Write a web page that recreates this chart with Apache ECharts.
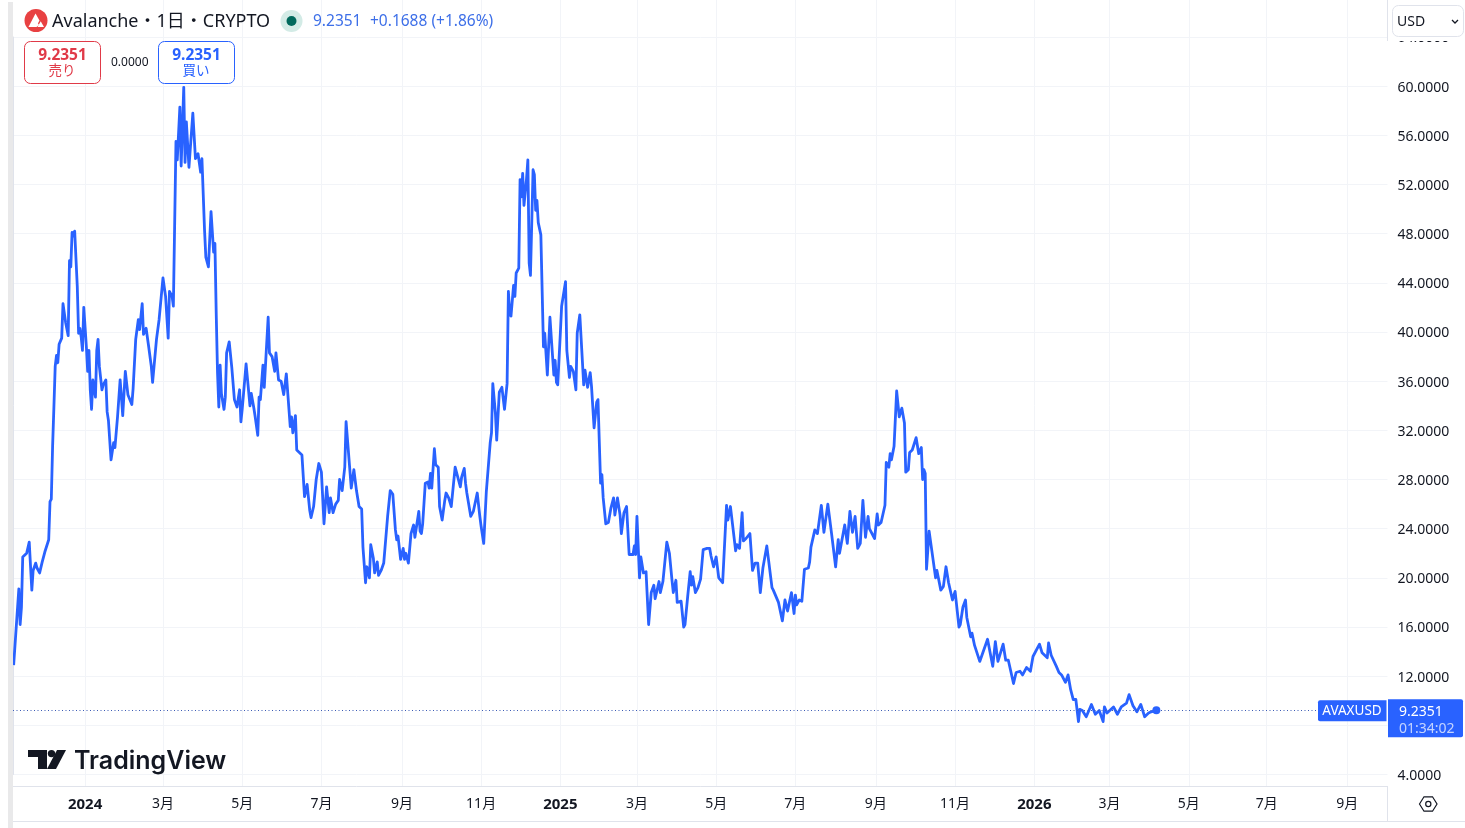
<!DOCTYPE html>
<html><head><meta charset="utf-8">
<style>html,body{margin:0;padding:0;background:#fff;overflow:hidden}#c{width:1465px;height:828px}</style>
<script src="https://cdn.jsdelivr.net/npm/echarts@6/dist/echarts.min.js"></script>
</head><body><div id="c"></div>
<script>
// Days after the first bar (2023-11-07)
const dayIndex = [0,1,4,5,6,7,10,12,14,15,17,18,20,22,24,25,27,28,29,30,31,32,33,34,35,36,37,38,40,42,43,44,45,46,47,49,50,51,52,53,54,56,57,58,59,60,61,63,64,65,66,67,68,69,71,72,73,74,75,77,78,80,82,83,84,86,88,91,92,93,94,95,96,97,99,100,102,104,106,107,110,111,112,115,117,118,119,120,122,123,125,126,128,129,131,132,133,135,138,140,142,144,145,147,148,150,152,153,154,155,156,157,158,159,160,162,163,164,166,168,170,172,174,175,176,179,180,182,183,185,186,188,189,190,192,193,196,197,199,201,202,204,206,208,210,213,214,215,217,218,222,224,226,228,229,231,233,234,235,237,239,241,243,244,246,248,250,251,253,255,256,260,262,264,266,268,269,271,272,274,275,277,278,280,281,283,285,288,290,292,294,295,296,298,300,301,302,304,306,308,309,312,313,314,315,317,319,320,321,322,324,325,327,328,330,332,333,335,337,338,340,341,344,345,347,348,349,352,354,357,359,360,362,364,367,368,369,371,372,374,376,378,380,381,382,383,385,386,387,389,390,391,392,393,395,396,397,398,400,401,402,403,404,406,408,409,411,413,414,416,417,418,419,421,422,425,426,428,429,431,433,434,436,439,440,442,444,445,447,449,450,452,453,454,456,458,460,462,463,465,467,468,470,472,474,477,478,479,480,482,483,485,487,489,491,492,493,494,497,498,500,503,505,507,508,510,511,514,516,517,519,521,522,523,525,527,529,530,531,534,536,537,538,539,541,543,546,549,550,552,554,556,557,559,561,562,564,567,569,571,573,575,577,580,584,585,589,592,594,596,599,601,602,603,605,607,609,612,613,614,617,619,622,624,625,627,630,633,635,636,640,642,644,646,648,650,652,654,656,658,659,663,665,666,668,671,672,674,675,676,678,680,682,684,686,687,689,690,692,695,697,699,700,701,702,703,705,710,711,714,716,718,720,721,723,725,728,729,731,733,734,737,738,740,744,745,750,751,754,756,758,762,764,766,770,772,775,777,780,783,785,790,792,796,797,799,803,805,807,810,812,814,816,818,820,821,823,826,830,833,836,839,840,842,847,850,853,857,859,862,865,868,871,874,875,876,880];
// Closing prices (USD)
const prices = [12.9,13.0,19.1,16.2,17.6,21.7,22,22.9,19,20.6,21.2,20.8,20.4,21.3,22.1,22,23.1,26.2,26.4,30.7,33.9,37.2,38.1,37.5,39,39.1,39.5,42.3,40.8,39.7,45.8,45.3,48.1,47.8,48.2,43.7,39.9,40.3,39.6,38.5,42,38.8,36.8,38.5,35.3,33.7,36.1,34.7,38.5,39.4,37.2,37.1,35.3,35.7,36.1,33.5,32.8,32.7,29.6,31,30.6,33.1,36.1,34.7,33.2,36.8,34.9,34.1,35.4,35.5,39.4,40.2,41,40.2,42.3,39.8,40.3,38.8,37.2,35.9,39.4,39.4,41,44.4,42.9,42.9,39.5,43.3,42.9,42.1,55.5,54,58.3,53.5,59.9,53.8,57.1,53.4,57.8,54.1,54.5,53,54.1,48.3,46.1,45.3,49.8,49.9,46.5,47.2,41.5,36.7,33.9,37.3,35,33.7,34.7,38.3,39.2,37.1,34.5,33.9,35.3,32.7,33.7,37.4,37.3,34,35,33.8,33.1,31.6,34.7,34.5,37.3,35.5,41.2,38.3,38,36.8,38.3,36.1,36,34.9,36.6,32.3,33.1,31.8,33.2,30.4,30,26.6,27.6,25.5,24.9,25.8,28,28,29.3,28.6,24.4,27.4,25.3,26.5,25.3,26,26.3,28,27.1,29,32.7,27.3,28.8,27.1,25.8,25.6,22.5,19.6,20.9,20,22.7,21.6,20.4,21.3,20.2,20.6,21.2,25,27.1,26.8,23.9,23.1,23.4,21.5,22.4,21.5,22,21.2,23.6,24.3,23.3,25.4,23.8,23.6,24.4,27.7,27.8,27.3,28.5,27.3,30.5,29.2,29,25.8,24.7,26.3,26.9,26.5,25.8,25.9,29,29,27.4,28.2,28.9,27.7,26.9,25,25.4,26.9,25,24.2,22.8,27,31,31.8,35.8,33.4,31.2,35.1,35.5,33.7,35.8,43.3,41.5,41.3,43.8,42.9,44.8,45.2,52.4,51,52.9,50.3,52.5,54,45.6,44.6,53.2,52.8,49.9,50.7,48.9,47.9,38.8,39.9,36.5,41.2,39.6,36.5,37.7,35.9,35.7,39.9,42.1,44.1,38.5,36.3,37.2,36.8,35.3,39.9,41.4,35.7,36.9,35.5,36.7,35.6,32.2,34.3,34.5,27.7,28.4,26.5,24.4,24.5,25.7,26.5,25.1,26.5,25.1,23.6,25.3,25.8,21.9,21.9,22.6,21.9,25,20,21.7,20.4,20.5,16.2,18.8,18.7,19.4,18.3,19.7,18.8,19.7,22.9,22,19.8,18.8,19.8,18,18.1,16,16.2,18.4,20.5,19.4,20.1,18.8,19.2,19.9,19.8,22.3,22.4,22.4,21.8,21.8,20.9,21.7,20,19.6,25.9,24.7,25.8,24,22.2,22.7,22.4,25.3,23,23.2,23.6,20.6,21.2,21.2,18.8,20.8,22.6,19.2,19,18,16.5,18.2,17.3,18.8,17.1,18.6,17.8,18.2,18.1,20.7,20.8,21.3,22.5,23.9,23.6,25.9,23.7,23.7,26,23.5,20.9,23.1,22,24.3,22.8,25.4,23.7,25,22.4,22.8,26.3,23.3,25,24,23.2,25.2,24.3,24.5,25.9,29.4,29,30.1,29.6,30.7,35.2,33.1,33.8,32.6,28.6,28.8,30.2,30.4,31.4,30.1,30.6,28,28.8,28.5,20.7,23.8,20,20.6,19,19.3,20.9,19.6,19.6,18.2,18.9,16,16.2,17.6,18.2,16.8,15.2,15.5,14.5,13.2,13.2,15,14.9,12.8,14.8,13.2,14.6,13.3,13.3,11.4,12.3,12.4,12.1,12.7,12.4,13.6,14.6,13.9,13.5,14.7,13.7,12.8,12.3,12.1,11.5,12.1,10.9,10.1,10.1,8.3,9.3,9.2,8.7,9.7,8.9,9.2,8.3,9.5,9,9.5,8.9,9.5,9.8,10.5,9.6,9.1,9.7,8.7,9.0,8.9,9.1,9.2351];
// Grid positions of the axis labels (the chart's future part runs very slightly tighter)
const tickDates = ['2024-01-01','2024-03-01','2024-05-01','2024-07-01','2024-09-01','2024-11-01','2025-01-01','2025-03-01','2025-05-01','2025-07-01','2025-09-01','2025-11-01','2026-01-01','2026-02-28','2026-04-30','2026-06-29','2026-08-30'];
const tickLabels = ['2024','3月','5月','7月','9月','11月','2025','3月','5月','7月','9月','11月','2026','3月','5月','7月','9月'];
const lastPrice = 9.2351;
const symbolName = 'AVAXUSD';
const countdown = '01:34:02';
const titleText = 'Avalanche・1日・CRYPTO';
const changeText = '+0.1688 (+1.86%)';
const currencyText = 'USD';

const DAY = 86400000;
const utc = s => { const p = s.split('-').map(Number); return Date.UTC(p[0], p[1]-1, p[2]); };
const firstBar = utc('2023-11-07');
const axisMin = -0.5, axisMax = 1058;
const tickDays = tickDates.map(s => Math.round((utc(s)-firstBar)/DAY));
const series = dayIndex.map((d,i)=>[d, prices[i]]);
const lastDay = dayIndex[dayIndex.length-1];
const priceLineEnd = 1004;

const BLUE='#2962ff', GRID='#f2f4f8', EDGE='#e0e3eb', INK='#131722', RED='#e03a48', SOFTBLUE='#3d6fe8';
const F='"Noto Sans","Noto Sans CJK JP",sans-serif';

const plainX = (g) => ({type:'value',gridIndex:g,min:axisMin,max:axisMax,axisLine:{show:false},
     axisTick:{show:false,customValues:tickDays},
     axisLabel:{show:false,customValues:tickDays},
     splitLine:{show:true,lineStyle:{color:GRID,width:1}}});

const chart = echarts.init(document.getElementById('c'), null, {renderer:'canvas'});
chart.setOption({
  animation:false,
  backgroundColor:'#fff',
  grid:[
    {left:13,right:77.5,top:37,bottom:828-774.5},
    {left:13,right:77.5,top:774.5,bottom:828-786.5},
    {left:13,right:77.5,top:0,bottom:828-37}
  ],
  xAxis:[
    plainX(0),
    {type:'value',gridIndex:1,min:axisMin,max:axisMax,
     axisLine:{show:true,onZero:false,lineStyle:{color:EDGE,width:1}},
     axisTick:{show:false,customValues:tickDays},
     splitLine:{show:true,lineStyle:{color:GRID,width:1}},
     axisLabel:{show:true,customValues:tickDays,hideOverlap:false,margin:11,color:INK,fontFamily:F,fontSize:14,
       formatter:v=>{const i=tickDays.indexOf(v);const t=i<0?'':tickLabels[i];return /^\d{4}$/.test(t)?'{b|'+t+'}':t;},
       rich:{b:{fontWeight:'bold',fontSize:15,fontFamily:F,color:INK}}}},
    plainX(2)
  ],
  yAxis:[
    {type:'value',gridIndex:0,position:'right',min:4,max:64,interval:4,
     axisLine:{show:true,lineStyle:{color:EDGE,width:1}},axisTick:{show:false},
     splitLine:{show:true,lineStyle:{color:GRID,width:1}},
     axisLabel:{margin:10,color:INK,fontFamily:F,fontSize:14,showMinLabel:true,showMaxLabel:true,
       formatter:v=>v===8?'':'{p|'+v.toFixed(4)+'}',
       rich:{p:{fontFamily:F,fontSize:14,color:INK,padding:[3,0,0,0]}}}},
    {type:'value',gridIndex:1,min:0,max:1,show:false},
    {type:'value',gridIndex:2,min:0,max:1,show:false}
  ],
  series:[{
    type:'line',xAxisIndex:0,yAxisIndex:0,data:series,showSymbol:false,symbol:'none',smooth:false,
    clip:true,lineStyle:{color:BLUE,width:2.8,join:'round'},
    emphasis:{disabled:true},
    markLine:{silent:true,symbol:'none',label:{show:false},
      lineStyle:{color:'#3b5bb5',width:1,type:[1,2.5]},
      data:[[{coord:[axisMin,lastPrice]},{coord:[priceLineEnd,lastPrice]}]]},
    markPoint:{silent:true,symbol:'circle',symbolSize:8,itemStyle:{color:BLUE},label:{show:false},
      data:[{coord:[lastDay,lastPrice]}]}
  }]
});

const yLast = chart.convertToPixel({yAxisIndex:0}, lastPrice);
const Z=50;
const txt=(x,y,t,o)=>({type:'text',z:Z+2,style:Object.assign({x,y,text:t,fill:INK,fontFamily:F,fontSize:14,verticalAlign:'middle',align:'left'},o||{})});
const rect=(x,y,w,h,fill,stroke,r)=>({type:'rect',z:Z,shape:{x,y,width:w,height:h,r:r||0},style:{fill:fill,stroke:stroke||null,lineWidth:1}});
const line=(a,b,c,d,col)=>({type:'line',z:Z,shape:{x1:a,y1:b,x2:c,y2:d},style:{stroke:col||EDGE,lineWidth:1}});
const poly=(pts,fill)=>({type:'polygon',z:Z+1,shape:{points:pts},style:{fill:fill}});
chart.setOption({graphic:{elements:[
  rect(8,2,5,826,'#e9e9ea'),
  line(13,821.5,1465,821.5),
  line(1387.5,786,1387.5,821.5),
  // currency box
  rect(1388,0,77,41,'#fff'),
  line(1387.5,0,1387.5,41),
  rect(1392.5,5.5,71,31,'#fff',EDGE,6),
  txt(1397,22,currencyText,{fontSize:14}),
  {type:'polyline',z:Z+1,shape:{points:[[1452,20],[1455,23],[1458,20]]},style:{stroke:INK,lineWidth:1.3,fill:null}},
  // header
  {type:'circle',z:Z,shape:{cx:36,cy:20.5,r:11.5},style:{fill:'#e84142'}},
  poly([[35.5,13.5],[39.5,20.5],[36,27],[28.5,27]],'#fff'),
  poly([[37.5,27],[44,27],[40.7,21.3]],'#fff'),
  poly([[35.8,20],[33.5,25.5],[36.5,27],[39,25]],'#fff'),
  txt(52,22,titleText,{fontSize:18}),
  {type:'circle',z:Z,shape:{cx:291.5,cy:21,r:11},style:{fill:'#d3ebe6'}},
  {type:'circle',z:Z,shape:{cx:291.5,cy:21,r:5},style:{fill:'#00695c'}},
  txt(313,22,lastPrice.toFixed(4),{fontSize:15.5,fill:SOFTBLUE}),
  txt(370,22,changeText,{fontSize:15.5,fill:SOFTBLUE}),
  // sell / buy
  rect(24.5,41.5,76,42,'#fff',RED,6),
  txt(62.5,55.5,lastPrice.toFixed(4),{align:'center',fontWeight:'bold',fontSize:15.5,fill:RED}),
  txt(62,71.5,'売り',{align:'center',fontSize:13.5,fill:RED}),
  txt(111,62.5,(0).toFixed(4),{fontSize:12}),
  rect(158.5,41.5,76,42,'#fff','#2962ff',6),
  txt(196.5,55.5,lastPrice.toFixed(4),{align:'center',fontWeight:'bold',fontSize:15.5,fill:BLUE}),
  txt(196,71.5,'買い',{align:'center',fontSize:13.5,fill:BLUE}),
  // price tags
  rect(1318,yLast-10,68.5,21,BLUE,null,[2,0,0,2]),
  txt(1352,yLast+1.5,symbolName,{align:'center',fill:'#fff',fontSize:13.5}),
  rect(1388,yLast-11,75,38,BLUE,null,[0,2,2,0]),
  txt(1399,yLast+1.5,lastPrice.toFixed(4),{fill:'#fff',fontSize:14}),
  txt(1399,yLast+18.5,countdown,{fill:'rgba(255,255,255,0.72)',fontSize:14}),
  // watermark
  poly([[28,750],[47,750],[47,769],[38,769],[38,757],[28,757]],'#131722'),
  {type:'circle',z:Z+1,shape:{cx:51.5,cy:753.6,r:3.7},style:{fill:'#131722'}},
  poly([[57,750],[66,750],[56,769],[47,769]],'#131722'),
  txt(74,761,'TradingView',{fontFamily:'Inter,sans-serif',fontWeight:600,fontSize:25,fill:'#131722'}),
  // settings icon
  {type:'polygon',z:Z+1,shape:{points:[[1419.5,804],[1424,796.8],[1432.5,796.8],[1437,804],[1432.5,811.2],[1424,811.2]]},style:{fill:'#fff',stroke:INK,lineWidth:1.2}},
  {type:'circle',z:Z+2,shape:{cx:1428.3,cy:804,r:2.6},style:{fill:'#fff',stroke:INK,lineWidth:1.2}}
]}});
</script></body></html>
